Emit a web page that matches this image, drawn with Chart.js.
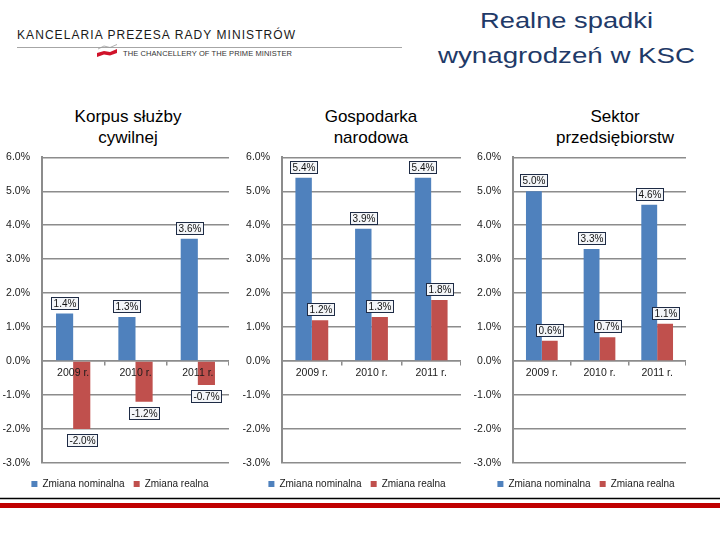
<!DOCTYPE html>
<html>
<head>
<meta charset="utf-8">
<script src="https://cdn.jsdelivr.net/npm/chart.js@4.4.1/dist/chart.umd.min.js"></script>
<style>
  html, body { margin: 0; padding: 0; background: #ffffff; }
  body { width: 720px; height: 540px; position: relative; overflow: hidden; font-family: 'Liberation Sans', Arial, sans-serif; }
  #overlay { position: absolute; left: 0; top: 0; }
  .panel { position: absolute; top: 139px; }
</style>
</head>
<body>
<svg id="overlay" width="720" height="540" xmlns="http://www.w3.org/2000/svg">
  <text x="17" y="39.3" font-family="'Liberation Sans', Arial, sans-serif" font-size="12" fill="#1a1a1a" textLength="278" lengthAdjust="spacing">KANCELARIA PREZESA RADY MINISTRÓW</text>
  <line x1="17" y1="47.5" x2="402" y2="47.5" stroke="#a6a6a6" stroke-width="1"/>
  <polyline points="98,49 104,46 110,47.5 117,44.5" fill="none" stroke="#9a9a9a" stroke-width="0.8"/>
  <polygon points="97,53 104,51 110,52 117,49 117,53 110,55.5 104,54.5 97,57" fill="#d0122a"/>
  <text x="123" y="56" font-family="'Liberation Sans', Arial, sans-serif" font-size="7.5" fill="#333" textLength="169" lengthAdjust="spacing">THE CHANCELLERY OF THE PRIME MINISTER</text>

  <g font-family="'Liberation Sans', Arial, sans-serif" fill="#1f3a68" font-size="22.5" text-anchor="middle">
    <text x="566.5" y="28.3" textLength="173" lengthAdjust="spacingAndGlyphs">Realne spadki</text>
    <text x="566.5" y="63" textLength="257" lengthAdjust="spacingAndGlyphs">wynagrodzeń w KSC</text>
  </g>

  <g id="panelTitles" font-family="'Liberation Sans', Arial, sans-serif" fill="#000" font-size="17" text-anchor="middle"></g>

  <line x1="0" y1="498.5" x2="720" y2="498.5" stroke="#000" stroke-width="1.5"/>
  <rect x="0" y="503" width="720" height="5" fill="#c00000"/>
</svg>

<div class="panel" style="left:0px;"><canvas id="c1" width="229" height="360"></canvas></div>
<div class="panel" style="left:240px;"><canvas id="c2" width="221" height="360"></canvas></div>
<div class="panel" style="left:473px;"><canvas id="c3" width="213" height="360"></canvas></div>

<script>
// ---- data ----
const categories = ['2009 r.', '2010 r.', '2011 r.'];
const seriesNames = ['Zmiana nominalna', 'Zmiana realna'];
const panelTitleLines = [
  ['Korpus służby', 'cywilnej'],
  ['Gospodarka', 'narodowa'],
  ['Sektor', 'przedsiębiorstw']
];
const korpusNominal = [1.4, 1.3, 3.6];
const korpusReal = [-2.0, -1.2, -0.7];
const gospodarkaNominal = [5.4, 3.9, 5.4];
const gospodarkaReal = [1.2, 1.3, 1.8];
const sektorNominal = [5.0, 3.3, 4.6];
const sektorReal = [0.6, 0.7, 1.1];
const yMin = -3, yMax = 6, yStep = 1;

// ---- panel titles (text) ----
const titleCenters = [128, 371, 615];
const g = document.getElementById('panelTitles');
panelTitleLines.forEach((lines, i) => {
  lines.forEach((ln, j) => {
    const t = document.createElementNS('http://www.w3.org/2000/svg', 'text');
    t.setAttribute('x', titleCenters[i]);
    t.setAttribute('y', 121.5 + j * 21);
    t.textContent = ln;
    g.appendChild(t);
  });
});

// ---- chart setup ----
Chart.defaults.font.family = "'Liberation Sans', Arial, sans-serif";
Chart.defaults.color = '#1a1a1a';

const BLUE = '#4f81bd';
const RED = '#c0504d';
const GRID = '#8c8c8c';

const boxLabels = {
  id: 'boxLabels',
  afterDraw(chart) {
    const ctx = chart.ctx;
    ctx.save();
    ctx.font = "10px 'Liberation Sans', Arial, sans-serif";
    chart.data.datasets.forEach((ds, di) => {
      const meta = chart.getDatasetMeta(di);
      meta.data.forEach((bar, i) => {
        const v = ds.data[i];
        const txt = v.toFixed(1) + '%';
        const w = Math.round(ctx.measureText(txt).width + 4);
        const h = 12;
        const left = Math.round(bar.x - w / 2);
        const top = Math.round(v >= 0 ? bar.y - 5 - h : bar.y + 5);
        ctx.fillStyle = '#f3f5f8';
        ctx.fillRect(left, top, w, h);
        ctx.strokeStyle = '#1e2b45';
        ctx.lineWidth = 1;
        ctx.strokeRect(left + 0.5, top + 0.5, w, h);
        ctx.fillStyle = '#111';
        ctx.textAlign = 'center';
        ctx.textBaseline = 'middle';
        ctx.fillText(txt, left + w / 2 + 0.5, top + h / 2 + 1);
      });
    });
    ctx.restore();
  }
};

// shifts the legend horizontally to sit where it does in the original slide
const legendShift = {
  id: 'legendShift',
  afterLayout(chart, args, opts) {
    const lg = chart.legend;
    if (lg && opts.dx) { lg.left += opts.dx; lg.right += opts.dx; }
  }
};

function makeChart(id, nominal, real, yWidth, dx) {
  return new Chart(document.getElementById(id), {
    type: 'bar',
    data: {
      labels: categories,
      datasets: [
        { label: seriesNames[0], data: nominal, backgroundColor: BLUE, borderColor: BLUE, borderWidth: 0 },
        { label: seriesNames[1], data: real, backgroundColor: RED, borderColor: RED, borderWidth: 0 }
      ]
    },
    options: {
      responsive: false,
      animation: false,
      devicePixelRatio: 1,
      datasets: { bar: { barPercentage: 1, categoryPercentage: 0.55 } },
      layout: { padding: { left: 0, right: 0, top: 0, bottom: 0 } },
      plugins: {
        legend: {
          position: 'bottom',
          labels: { boxWidth: 6, boxHeight: 6, padding: 9, font: { size: 10 }, color: '#1a1a1a' },
          title: { display: true, text: '', padding: { top: 1, bottom: 0 }, font: { size: 5 } }
        },
        legendShift: { dx: dx },
        tooltip: { enabled: false }
      },
      scales: {
        x: {
          position: { y: 0 },
          offset: true,
          grid: { display: true, drawOnChartArea: false, drawTicks: true, tickLength: 4, color: GRID, lineWidth: 1.5, offset: true },
          border: { display: true, color: GRID, width: 1.5 },
          ticks: { z: 1, padding: 2, color: '#1a1a1a', font: { size: 10.5 } }
        },
        y: {
          min: yMin,
          max: yMax,
          ticks: { stepSize: yStep, padding: 12, color: '#1a1a1a', font: { size: 10.5 }, callback: v => Number(v).toFixed(1) + '%' },
          grid: { color: GRID, lineWidth: 1.5, drawTicks: false },
          border: { display: true, color: GRID, width: 2 },
          afterFit: s => { s.width = yWidth; }
        }
      }
    },
    plugins: [boxLabels, legendShift]
  });
}

makeChart('c1', korpusNominal, korpusReal, 42, 5.5);
makeChart('c2', gospodarkaNominal, gospodarkaReal, 42, 6.5);
makeChart('c3', sektorNominal, sektorReal, 40, 6.5);
</script>
</body>
</html>
